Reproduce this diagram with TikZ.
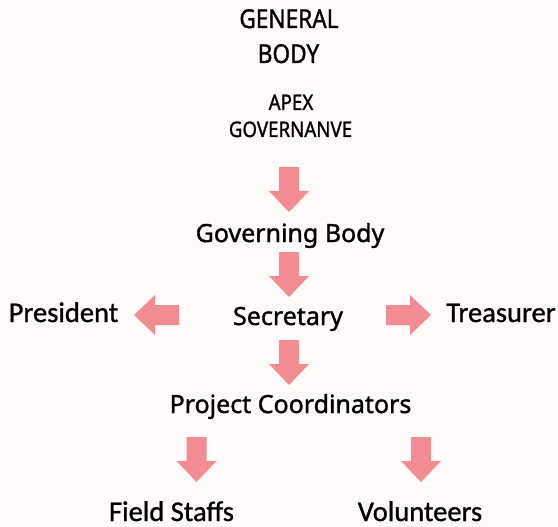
\documentclass[tikz,border=0pt]{standalone}
\usepackage{fontspec}
\setmainfont{Noto Sans}[FakeBold=1.3]
\newfontfamily\calib{Carlito}[FakeBold=1]
\usetikzlibrary{positioning}
\definecolor{arrowpink}{RGB}{243,139,146}
\definecolor{paper}{RGB}{253,250,249}
\tikzset{
  lbl/.style={inner sep=0pt, anchor=base, font=\fontsize{25}{30}\selectfont},
  head/.style={lbl, xscale=0.87, transform shape, font=\fontsize{26}{30}\selectfont},
  apex/.style={lbl, xscale=0.87, transform shape, font=\fontsize{21.5}{26}\selectfont},
  role/.style={inner sep=0pt, anchor=base, font=\calib\fontsize{28.5}{34}\selectfont},
  blockarrow/.pic={\fill[arrowpink] (0,-10) -- (24,-10) -- (24,-20) -- (45,0) -- (24,20) -- (24,10) -- (0,10) -- cycle;}
}

\begin{document}
\begin{tikzpicture}[x=1pt,y=-1pt]
\fill[paper] (0,0) rectangle (558,527);
\useasboundingbox (0,0) rectangle (558,527);
% titles
\node[head] (gen) at (289,28) {GENERAL};
\node[head] (body) at (288.5,63) {BODY};
\node[apex] (apex) at (291,110) {APEX};
\node[apex] (govn) at (290.5,137) {GOVERNANVE};
% chain
\node[lbl] (gov) at (290,242) {Governing Body};
\node[lbl] (sec) at (288,325) {Secretary};
\node[role] (pres) at (63.5,322) {President};
\node[role] (treas) at (501,322) {Treasurer};
\node[lbl] (proj) at (290.5,413) {Project Coordinators};
\node[role] (field) at (171.5,521) {Field Staffs};
\node[role] (vol) at (420,521) {Volunteers};
% block arrows
\pic[rotate=-90] at (289,167) {blockarrow};
\pic[rotate=-90] at (289,252) {blockarrow};
\pic[rotate=-90] at (289,340) {blockarrow};
\pic[rotate=180] at (179,315) {blockarrow};
\pic at (386,315) {blockarrow};
\pic[rotate=-90] at (196.5,437) {blockarrow};
\pic[rotate=-90] at (421,437) {blockarrow};
\end{tikzpicture}
\end{document}
